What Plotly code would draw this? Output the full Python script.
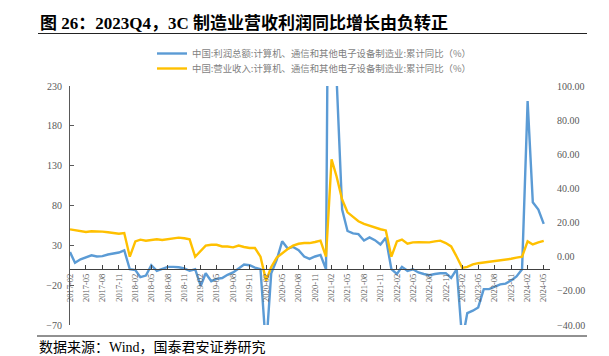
import pandas as pd
import plotly.graph_objects as go

# Monthly dates, 2017-02 .. 2024-05 (January shown as 0, as in the source chart)
dates = pd.date_range("2017-02-01", "2024-05-01", freq="MS")

# 中国:利润总额:计算机、通信和其他电子设备制造业:累计同比 (%)  -> left axis
profit_2017 = [21.6, 8, 12.5, 15, 17.5, 16, 16.5, 18.5, 19.5, 21, 23.8]
profit_2018 = [0, -1, -10, -8, 5, -2, 0, 3, 3, 2.5, 1, -2]
profit_2019 = [0, -21, -5, -15, -12, -11, -7, -4, 1, 6, 5, 2]
profit_2020 = [0, -100, -5, 12, 35, 26, 28, 24, 16, 13, 16, 18]
profit_2021 = [0, 1000, 240, 75, 48, 45, 44, 36, 40, 36.5, 31, 39.5]
profit_2022 = [0, -6, 3, -2, 0, -4, -6, -7.5, -6, -5, -5, -11]
profit_2023 = [0, -90, -55, -52, -48, -25, -25, -22, -19, -18, -14, -9]
profit_2024 = [0, 211, 84, 75, 57]

# 中国:营业收入:计算机、通信和其他电子设备制造业:累计同比 (%)  -> right axis
revenue_2017 = [16, 15.5, 14.8, 14.5, 14.9, 14.9, 14.7, 14.3, 13.8, 13.5, 13.9]
revenue_2018 = [0, 9, 10, 9.4, 9.6, 10.2, 9.8, 10.2, 10.6, 11.2, 10.8, 10.2]
revenue_2019 = [0, 3.5, 6.5, 7, 7, 6, 6, 5.5, 6.5, 5.7, 5.1, 5.1]
revenue_2020 = [0, -14, -6, -0.5, 2.2, 4.5, 6.5, 7.6, 8, 8, 8.6, 9.4]
revenue_2021 = [0, 57, 47, 33.5, 26, 23.3, 20.8, 19.2, 18, 17, 16.1, 15.4]
revenue_2022 = [0, 9, 10, 7.6, 8.4, 8.5, 8.6, 8.4, 9, 9.4, 8, 6]
revenue_2023 = [0, -6.5, -6, -4.5, -3.8, -3.4, -3, -2.8, -2.4, -1.8, -1.2, -0.5]
revenue_2024 = [0, 9, 7.2, 8.4, 9.3]

profit = (profit_2017 + profit_2018 + profit_2019 + profit_2020 + profit_2021
          + profit_2022 + profit_2023 + profit_2024)
revenue = (revenue_2017 + revenue_2018 + revenue_2019 + revenue_2020 + revenue_2021
           + revenue_2022 + revenue_2023 + revenue_2024)

name_profit = "中国:利润总额:计算机、通信和其他电子设备制造业:累计同比（%）"
name_revenue = "中国:营业收入:计算机、通信和其他电子设备制造业:累计同比（%）"
title_text = "图 26：2023Q4，3C 制造业营收利润同比增长由负转正"
source_text = "数据来源：Wind，国泰君安证券研究"

left_ticks = [-70, -20, 30, 80, 130, 180, 230]
right_ticks = [-40, -20, 0, 20, 40, 60, 80, 100]

SERIF = "Liberation Serif, Times New Roman, serif"
CJK = "Noto Sans CJK SC, sans-serif"

fig = go.Figure()
fig.add_trace(go.Scatter(x=dates, y=profit, name=name_profit, mode="lines",
                         line=dict(color="#5B9BD5", width=2.4), yaxis="y",
                         legend="legend"))
fig.add_trace(go.Scatter(x=dates, y=revenue, name=name_revenue, mode="lines",
                         line=dict(color="#FFC000", width=2.4), yaxis="y2",
                         legend="legend2"))

# plot area: x 70..550 px, y 86..325 px
L, R, T, B = 70, 550, 86, 325
W, H = R - L, B - T
def px_x(p):
    return (p - L) / W
def px_y(p):
    return (B - p) / H

legend_style = dict(xanchor="left", yanchor="top", bgcolor="rgba(0,0,0,0)",
                    font=dict(family=CJK, size=9.4, color="#7f7f7f"),
                    itemwidth=30, tracegroupgap=0)

fig.update_layout(
    width=609, height=356,
    margin=dict(l=L, r=609 - R, t=T, b=356 - B),
    paper_bgcolor="white", plot_bgcolor="white",
    showlegend=True,
    title=dict(text="<b>" + title_text + "</b>", x=40 / 609, xref="container",
               xanchor="left", y=1 - 23 / 356, yref="container", yanchor="middle",
               font=dict(family=SERIF + ", " + CJK, size=17, color="black")),
    legend=dict(x=px_x(152), y=px_y(39), **legend_style),
    legend2=dict(x=px_x(152), y=px_y(54), **legend_style),
    xaxis=dict(type="date", range=["2017-02-01", "2024-06-05"],
               anchor="free", position=(0 - (-70)) / 300,
               showline=True, linecolor="#404040", linewidth=1,
               ticks="inside", ticklen=4, tickcolor="#404040",
               tickformat="%Y-%m", dtick="M3", tick0="2017-02-01", tickangle=-90,
               tickfont=dict(family=SERIF, size=8.5, color="#595959"),
               showgrid=False, zeroline=False, automargin=False),
    yaxis=dict(range=[-70, 230], tickvals=left_ticks,
               showline=True, linecolor="#595959", linewidth=1,
               ticks="inside", ticklen=4, tickcolor="#595959", ticklabelstandoff=5,
               tickfont=dict(family=SERIF, size=10, color="#595959"),
               showgrid=False, zeroline=False, automargin=False),
    yaxis2=dict(range=[-40, 100], tickvals=right_ticks, tickformat=".2f",
                overlaying="y", side="right", showline=False, ticks="",
                ticklabelstandoff=6,
                tickfont=dict(family=SERIF, size=10, color="#595959"),
                showgrid=False, zeroline=False, automargin=False),
    shapes=[
        dict(type="line", xref="paper", yref="paper", x0=px_x(38), x1=px_x(587),
             y0=px_y(33.5), y1=px_y(33.5), line=dict(color="#222222", width=1)),
        dict(type="line", xref="paper", yref="paper", x0=px_x(37), x1=px_x(587),
             y0=px_y(336), y1=px_y(336), line=dict(color="#222222", width=1)),
    ],
    annotations=[
        dict(text=source_text, xref="paper", yref="paper", x=px_x(37), y=px_y(347),
             xanchor="left", yanchor="middle", showarrow=False,
             font=dict(family=SERIF + ", " + CJK, size=14, color="black")),
    ],
)

fig.write_html("out.html", config={"displayModeBar": False},
               post_script="document.body.style.margin='0';")
